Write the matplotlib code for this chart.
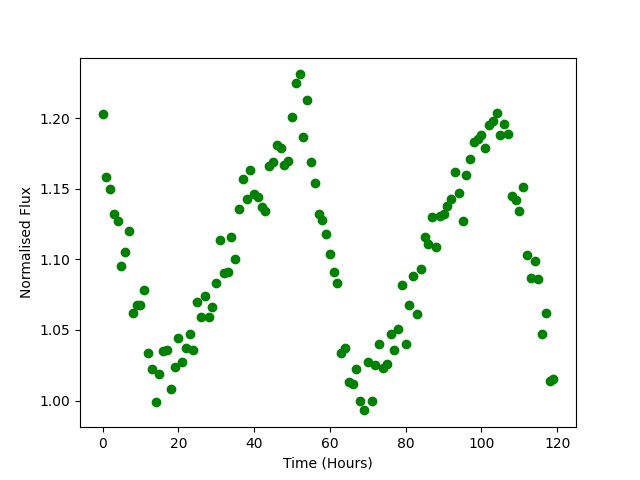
import matplotlib
matplotlib.use('Agg')
import matplotlib.pyplot as plt

# hourly flux samples
hours = list(range(120))
flux = [
    1.203, 1.158, 1.150, 1.132, 1.127, 1.095, 1.105, 1.120, 1.062, 1.068,
    1.068, 1.078, 1.034, 1.022, 0.999, 1.019, 1.035, 1.036, 1.008, 1.024,
    1.044, 1.027, 1.037, 1.047, 1.036, 1.070, 1.059, 1.074, 1.059, 1.066,
    1.083, 1.114, 1.090, 1.091, 1.116, 1.100, 1.136, 1.157, 1.143, 1.163,
    1.146, 1.144, 1.137, 1.134, 1.166, 1.169, 1.181, 1.179, 1.167, 1.170,
    1.201, 1.225, 1.231, 1.187, 1.213, 1.169, 1.154, 1.132, 1.128, 1.118,
    1.104, 1.091, 1.083, 1.034, 1.037, 1.013, 1.012, 1.022, 1.000, 0.993,
    1.027, 1.000, 1.025, 1.040, 1.023, 1.026, 1.047, 1.036, 1.051, 1.082,
    1.040, 1.068, 1.088, 1.061, 1.093, 1.116, 1.111, 1.130, 1.109, 1.131,
    1.132, 1.138, 1.143, 1.162, 1.147, 1.127, 1.160, 1.171, 1.183, 1.185,
    1.188, 1.179, 1.195, 1.198, 1.204, 1.188, 1.196, 1.189, 1.145, 1.142,
    1.134, 1.151, 1.103, 1.087, 1.099, 1.086, 1.047, 1.062, 1.014, 1.015,
]

fig, ax = plt.subplots(figsize=(6.4, 4.8), dpi=100)
ax.plot(hours, flux, 'o', color='green')

plt.xlabel('Time (Hours)')
plt.ylabel('Normalised Flux')

plt.savefig('out.png', dpi=100)
